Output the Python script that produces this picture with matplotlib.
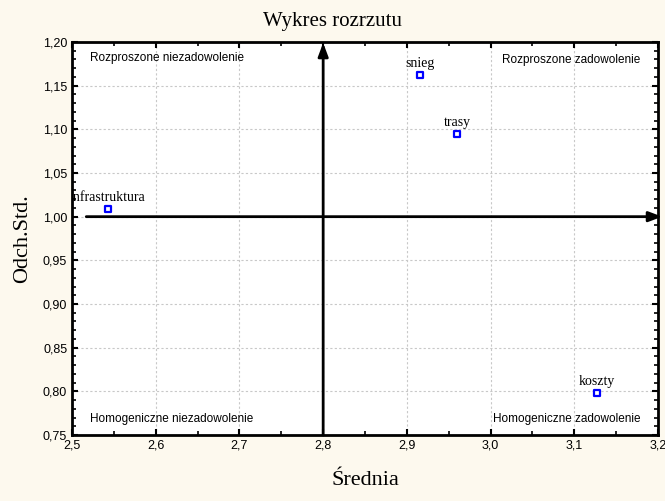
import matplotlib
matplotlib.use("Agg")
import matplotlib.pyplot as plt
from matplotlib.ticker import MultipleLocator, FuncFormatter

# Data
labels = ["infrastruktura", "snieg", "trasy", "koszty"]
mean_vals = [2.543, 2.916, 2.960, 3.127]
std_vals = [1.009, 1.162, 1.095, 0.798]

quadrant_texts = ["Rozproszone niezadowolenie", "Rozproszone zadowolenie",
                  "Homogeniczne niezadowolenie", "Homogeniczne zadowolenie"]
x_center = 2.8
y_center = 1.00
xlim = (2.5, 3.2)
ylim = (0.75, 1.20)

bg = "#FDF9EE"
fig = plt.figure(figsize=(6.65, 5.01), dpi=100, facecolor=bg)
ax = fig.add_axes([0.1083, 0.1317, 0.8812, 0.7845])
ax.set_facecolor("white")
ax.set_xlim(*xlim)
ax.set_ylim(*ylim)

ax.xaxis.set_major_locator(MultipleLocator(0.1))
ax.xaxis.set_minor_locator(MultipleLocator(0.05))
ax.yaxis.set_major_locator(MultipleLocator(0.05))
ax.yaxis.set_minor_locator(MultipleLocator(0.01))
ax.xaxis.set_major_formatter(FuncFormatter(lambda v, p: f"{v:.1f}".replace(".", ",")))
ax.yaxis.set_major_formatter(FuncFormatter(lambda v, p: f"{v:.2f}".replace(".", ",")))

ax.grid(True, which="major", color="#c8c8c8", linestyle=(0, (2, 2)), linewidth=0.8)
ax.tick_params(which="both", direction="in", top=True, right=True, color="black")
ax.tick_params(which="major", length=4, width=1.5, labelsize=9)
ax.tick_params(which="minor", length=3, width=1.2)
for t in ax.get_xticklabels() + ax.get_yticklabels():
    t.set_family("Liberation Sans")
for s in ax.spines.values():
    s.set_linewidth(2)

# Axes arrows through center
ax.annotate("", xy=(xlim[1] + 0.005, y_center), xytext=(2.517, y_center),
            arrowprops=dict(arrowstyle="-|>,head_length=0.8,head_width=0.3", lw=2, color="black",
                            shrinkA=0, shrinkB=0), annotation_clip=False)
ax.annotate("", xy=(x_center, ylim[1] - 0.001), xytext=(x_center, ylim[0]),
            arrowprops=dict(arrowstyle="-|>,head_length=0.8,head_width=0.3", lw=2, color="black",
                            shrinkA=0, shrinkB=0), annotation_clip=False)

# Points
ax.scatter(mean_vals, std_vals, marker="s", s=22, facecolor="white", edgecolor="blue",
           linewidths=1.6, zorder=5)
for lab, xv, yv in zip(labels, mean_vals, std_vals):
    ax.annotate(lab, (xv, yv), xytext=(0, 3.5), textcoords="offset points", ha="center",
                va="bottom", fontsize=10, family="Liberation Serif", clip_on=True)

# Quadrant labels
qfs = 8.5
ax.text(0.03, 0.975, quadrant_texts[0], transform=ax.transAxes, ha="left", va="top",
        fontsize=qfs, family="Liberation Sans")
ax.text(0.97, 0.97, quadrant_texts[1], transform=ax.transAxes, ha="right", va="top",
        fontsize=qfs, family="Liberation Sans")
ax.text(0.03, 0.025, quadrant_texts[2], transform=ax.transAxes, ha="left", va="bottom",
        fontsize=qfs, family="Liberation Sans")
ax.text(0.97, 0.025, quadrant_texts[3], transform=ax.transAxes, ha="right", va="bottom",
        fontsize=qfs, family="Liberation Sans")

fig.text(0.5, 0.958, "Wykres rozrzutu", ha="center", va="center", fontsize=15,
         family="Liberation Serif")
ax.set_xlabel("Średnia", fontsize=16, family="Liberation Serif", labelpad=14)
ax.set_ylabel("Odch.Std.", fontsize=16, family="Liberation Serif", labelpad=8)

fig.savefig("out.png", dpi=100, facecolor=bg)
